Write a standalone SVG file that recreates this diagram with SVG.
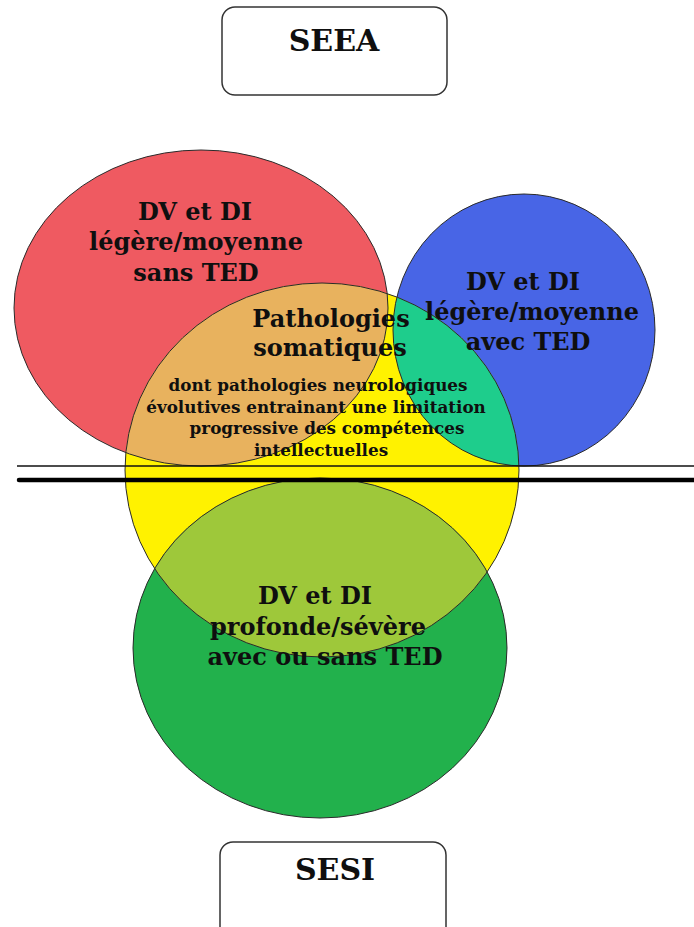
<svg xmlns="http://www.w3.org/2000/svg" width="694" height="927" viewBox="0 0 694 927">
<style>
.lbl{font-family:"DejaVu Serif","Liberation Serif",serif;font-weight:bold;fill:#0f0f0f;text-anchor:middle}
.big{font-size:24px}
.small{font-size:16.8px}
.box{fill:#fff;stroke:#333;stroke-width:1.5}
.ttl{font-size:30px}
.outline{fill:none;stroke:#2a2a2a;stroke-width:1}
</style>
<defs>
<clipPath id="clipYellow"><ellipse cx="322" cy="470" rx="197" ry="187"/></clipPath>
</defs>
<rect width="694" height="927" fill="#fff"/>
<g id="node-seea">
<rect class="box" x="222" y="7" width="225" height="88" rx="13"/>
<text class="lbl ttl" x="334" y="51">SEEA</text>
</g>
<g id="node-sesi">
<rect class="box" x="220" y="842" width="226" height="110" rx="13"/>
<text class="lbl ttl" x="335" y="880">SESI</text>
</g>
<g id="circles">
<ellipse id="red" cx="201" cy="308" rx="187" ry="158" fill="#EF5A61"/>
<ellipse id="blue" cx="524" cy="330" rx="131" ry="136" fill="#4865E6"/>
<ellipse id="yellow" cx="322" cy="470" rx="197" ry="187" fill="#FFF200"/>
<ellipse id="green" cx="320" cy="648" rx="187" ry="170" fill="#22B14C"/>
<g clip-path="url(#clipYellow)">
<ellipse cx="201" cy="308" rx="187" ry="158" fill="#E8B25E"/>
<ellipse cx="524" cy="330" rx="131" ry="136" fill="#1ECD8C"/>
<ellipse cx="320" cy="648" rx="187" ry="170" fill="#9EC83A"/>
</g>
<ellipse class="outline" cx="201" cy="308" rx="187" ry="158"/>
<ellipse class="outline" cx="524" cy="330" rx="131" ry="136"/>
<ellipse class="outline" cx="322" cy="470" rx="197" ry="187"/>
<ellipse class="outline" cx="320" cy="648" rx="187" ry="170"/>
</g>
<g id="connectors">
<line x1="17" y1="466" x2="694" y2="466" stroke="#111" stroke-width="1.5"/>
<line x1="19" y1="480" x2="694" y2="480" stroke="#000" stroke-width="4.5" stroke-linecap="round"/>
</g>
<g id="node-red">
<text class="lbl big" x="195" y="220">DV et DI</text>
<text class="lbl big" x="196" y="250">légère/moyenne</text>
<text class="lbl big" x="196" y="281">sans TED</text>
</g>
<g id="node-blue">
<text class="lbl big" x="523" y="290">DV et DI</text>
<text class="lbl big" x="532" y="320">légère/moyenne</text>
<text class="lbl big" x="528" y="350">avec TED</text>
</g>
<g id="node-yellow">
<text class="lbl big" x="331" y="327">Pathologies</text>
<text class="lbl big" x="330" y="356">somatiques</text>
<text class="lbl small" x="318" y="391">dont pathologies neurologiques</text>
<text class="lbl small" x="316" y="413">évolutives entrainant une limitation</text>
<text class="lbl small" x="327" y="434">progressive des compétences</text>
<text class="lbl small" x="321" y="456">intellectuelles</text>
</g>
<g id="node-green">
<text class="lbl big" x="315" y="604">DV et DI</text>
<text class="lbl big" x="318" y="635">profonde/sévère</text>
<text class="lbl big" x="325" y="665">avec ou sans TED</text>
</g>
</svg>
